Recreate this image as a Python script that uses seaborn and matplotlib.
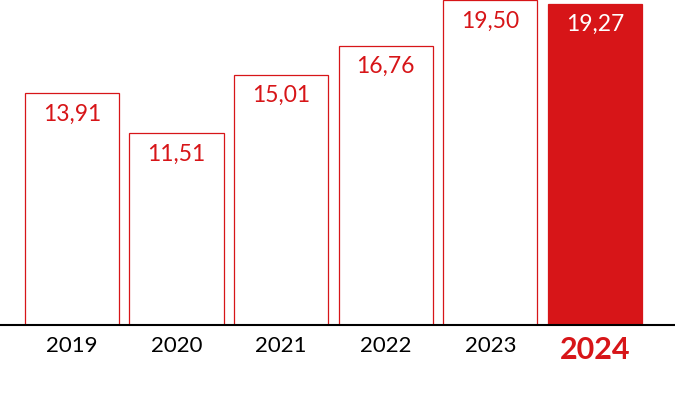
import matplotlib
matplotlib.use("Agg")
import matplotlib.pyplot as plt
import seaborn as sns
import pandas as pd

years = ["2019", "2020", "2021", "2022", "2023", "2024"]
values = [13.91, 11.51, 15.01, 16.76, 19.50, 19.27]
labels = ["13,91", "11,51", "15,01", "16,76", "19,50", "19,27"]

red = "#D71518"

sns.set_style("white")
plt.rcParams["font.family"] = ["Lato", "DejaVu Sans"]

df = pd.DataFrame({"year": years, "value": values})

fig = plt.figure(figsize=(6.75, 4.0), dpi=100)
ax = fig.add_axes([0, 0.1875, 1, 0.8125])

colors = ["white"] * (len(years) - 1) + [red]
sns.barplot(data=df, x="year", y="value", hue="year", palette=colors,
            legend=False, width=0.9, edgecolor=red, linewidth=0.9,
            saturation=1, ax=ax)

for i, (v, lab) in enumerate(zip(values, labels)):
    tc = "white" if i == len(values) - 1 else red
    ax.annotate(lab, (i, v), xytext=(0, -7.5), textcoords="offset points",
                ha="center", va="top", fontsize=16.5, color=tc)

ax.set_xlim(-0.688, 5.765)
ax.set_ylim(0, 19.5)
ax.set_xlabel("")
ax.set_ylabel("")
ax.set_yticks([])
sns.despine(ax=ax, left=True, top=True, right=True)
ax.spines["bottom"].set_color("black")
ax.spines["bottom"].set_linewidth(1.5)
ax.tick_params(axis="x", length=0, pad=8, labelsize=16, labelcolor="black")

last = ax.get_xticklabels()[-1]
last.set_color(red)
last.set_fontweight("bold")
last.set_fontsize(22)

fig.savefig("out.png", dpi=100)
